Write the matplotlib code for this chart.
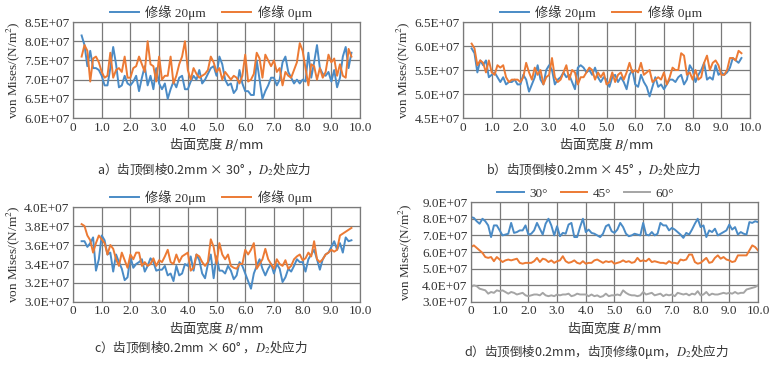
import numpy as np
import matplotlib
matplotlib.use("Agg")
import matplotlib.pyplot as plt
from matplotlib.font_manager import FontProperties

plt.rcParams['mathtext.fontset'] = 'stix'

# ---------------- data (values in 1E+07 N/m^2) ----------------
width_ab = np.round(np.arange(0.3, 9.75, 0.1), 1)   # tooth width B/mm, panels a-c
width_d = np.round(np.arange(0.0, 10.05, 0.1), 1)   # panel d

a_20um = [8.15, 7.9, 7.35, 7.75, 7.3, 7.3, 7.25, 7.1, 6.85, 6.85,
          7.3, 7.85, 7.4, 6.8, 6.85, 7.1, 6.9, 6.85, 6.95, 7.1,
          6.7, 7.05, 7.35, 6.85, 7.1, 6.75, 7.3, 6.9, 6.75, 6.9,
          6.5, 6.75, 6.95, 6.8, 7.05, 7.1, 6.75, 6.75, 6.95, 7.1,
          7.0, 7.25, 6.9, 7.0, 7.15, 7.3, 7.35, 7.1, 7.6, 7.4,
          7.0, 6.85, 6.9, 6.65, 6.75, 7.25, 6.9, 6.7, 6.7, 6.6,
          6.6, 7.5, 7.0, 6.5, 6.7, 6.85, 7.05, 7.05, 6.85, 7.0,
          7.45, 7.6, 7.2, 7.05, 6.9, 7.0, 6.9, 7.0, 6.95, 7.7,
          7.05, 7.45, 7.9, 7.3, 7.15, 7.1, 7.2, 6.95, 7.25, 6.8,
          7.05, 7.6, 7.85, 7.3, 7.7]
a_0um = [7.6, 7.9, 7.75, 6.95, 7.55, 7.6, 7.45, 7.2, 7.05, 7.1,
         7.7, 7.05, 7.25, 7.3, 7.2, 7.6, 7.05, 7.05, 7.3, 7.35,
         7.6, 7.4, 7.2, 8.0, 7.4, 7.35, 6.95, 7.6, 7.0, 7.1,
         7.1, 7.6, 6.9, 7.1, 7.4, 7.6, 8.0, 7.25, 7.0, 7.3,
         7.15, 7.05, 7.1, 7.15, 7.25, 7.6, 7.45, 7.2, 7.3, 7.0,
         7.2, 7.1, 7.0, 7.1, 7.05, 6.9, 7.1, 7.65, 6.95, 7.0,
         7.15, 7.7, 7.55, 7.05, 7.65, 7.5, 7.35, 7.5, 7.2, 7.3,
         6.85, 7.2, 7.1, 7.05, 7.25, 7.45, 7.95, 7.75, 7.3, 6.85,
         7.4, 7.35, 7.0, 7.3, 7.05, 7.2, 7.65, 7.45, 7.55, 7.1,
         7.4, 7.1, 7.05, 7.8, 7.6]

b_20um = [5.95, 5.85, 5.45, 5.7, 5.6, 5.7, 5.35, 5.4, 5.45, 5.35,
          5.25, 5.35, 5.2, 5.25, 5.25, 5.3, 5.2, 5.2, 5.4, 5.3,
          5.05, 5.2, 5.35, 5.6, 5.3, 5.2, 5.5, 5.6, 5.5, 5.2,
          5.3, 5.35, 5.45, 5.35, 5.4, 5.25, 5.1, 5.55, 5.6, 5.55,
          5.45, 5.5, 5.4, 5.55, 5.35, 5.25, 5.35, 5.3, 5.15, 5.35,
          5.4, 5.25, 5.35, 5.25, 5.1, 5.4, 5.5, 5.2, 5.15, 5.4,
          5.25, 5.15, 4.95, 5.15, 5.35, 5.15, 5.2, 5.1, 5.2, 5.3,
          5.3, 5.25, 5.35, 5.4, 5.2, 5.3, 5.6, 5.5, 5.25, 5.4,
          5.5, 5.65, 5.3, 5.35, 5.3, 5.6, 5.4, 5.45, 5.4, 5.45,
          5.55, 5.75, 5.7, 5.65, 5.75]
b_0um = [6.05, 5.95, 5.6, 5.7, 5.65, 5.45, 5.7, 5.45, 5.4, 5.6,
         5.55, 5.6, 5.35, 5.25, 5.3, 5.3, 5.3, 5.25, 5.35, 5.65,
         5.45, 5.3, 5.55, 5.4, 5.5, 5.2, 5.35, 5.4, 5.75, 5.35,
         5.25, 5.3, 5.45, 5.6, 5.3, 5.5, 5.45, 5.2, 5.35, 5.35,
         5.45, 5.55, 5.5, 5.3, 5.45, 5.35, 5.45, 5.2, 5.25, 5.45,
         5.25, 5.4, 5.45, 5.3, 5.45, 5.65, 5.45, 5.5, 5.45, 5.65,
         5.4, 5.45, 5.5, 5.25, 5.3, 5.35, 5.3, 5.45, 5.2, 5.35,
         5.55, 5.5, 5.5, 5.85, 5.8, 5.4, 5.45, 5.3, 5.5, 5.3,
         5.35, 5.65, 5.8, 5.5, 5.65, 5.7, 5.6, 5.4, 5.4, 5.5,
         5.75, 5.75, 5.7, 5.9, 5.85]

c_20um = [3.64, 3.64, 3.58, 3.62, 3.68, 3.33, 3.45, 3.70, 3.65, 3.5,
          3.52, 3.32, 3.5, 3.42, 3.35, 3.23, 3.26, 3.48, 3.36, 3.4,
          3.42, 3.45, 3.32, 3.38, 3.46, 3.42, 3.33, 3.34, 3.34, 3.38,
          3.28, 3.3, 3.22, 3.38, 3.28, 3.3, 3.4, 3.38, 3.48, 3.33,
          3.5, 3.44, 3.3, 3.25, 3.4, 3.5, 3.25, 3.48, 3.33, 3.33,
          3.3, 3.38, 3.33, 3.24, 3.28, 3.42, 3.38, 3.3, 3.22, 3.14,
          3.3, 3.38, 3.45, 3.35, 3.28, 3.35, 3.4, 3.3, 3.4, 3.35,
          3.21, 3.26, 3.35, 3.32, 3.38, 3.45, 3.42, 3.42, 3.32, 3.45,
          3.5, 3.55, 3.45, 3.34, 3.45, 3.5, 3.52, 3.58, 3.64, 3.55,
          3.62, 3.52, 3.68, 3.64, 3.65]
c_0um = [3.82, 3.8, 3.7, 3.65, 3.52, 3.62, 3.7, 3.66, 3.62, 3.5,
         3.6, 3.56, 3.45, 3.38, 3.52, 3.44, 3.36, 3.5, 3.45, 3.52,
         3.52, 3.38, 3.42, 3.38, 3.4, 3.46, 3.38, 3.44, 3.42, 3.48,
         3.55, 3.42, 3.4, 3.5, 3.42, 3.48, 3.5, 3.52, 3.33, 3.36,
         3.5, 3.48, 3.42, 3.38, 3.42, 3.66, 3.58, 3.4, 3.62, 3.5,
         3.45, 3.5, 3.38, 3.36, 3.35, 3.4, 3.4, 3.55, 3.5, 3.55,
         3.62, 3.35, 3.4, 3.45, 3.56, 3.45, 3.4, 3.35, 3.45, 3.4,
         3.38, 3.44, 3.35, 3.38, 3.45, 3.48, 3.5, 3.44, 3.46, 3.52,
         3.48, 3.64, 3.45, 3.42, 3.45, 3.5, 3.52, 3.55, 3.53, 3.55,
         3.7, 3.72, 3.74, 3.76, 3.78]

d_30 = [8.1, 8.05, 7.85, 7.7, 8.0, 7.85, 7.6, 6.9, 7.6, 7.6,
        7.3, 7.0, 7.05, 7.1, 7.75, 7.15, 7.2, 7.3, 7.3, 7.6,
        7.05, 7.1, 7.3, 7.75, 7.4, 7.05, 7.7, 8.0, 7.6, 7.0,
        7.55, 6.95, 7.15, 7.1, 7.65, 7.75, 6.9, 6.9, 7.5, 8.0,
        7.2, 7.35, 7.15, 7.1, 7.0, 6.9, 7.1, 7.55, 7.65, 7.25,
        7.15, 7.35, 7.75, 7.5, 7.1, 6.95, 7.0, 7.1, 7.05, 7.0,
        7.75, 7.05, 7.0, 7.2, 7.0, 7.1, 7.75, 7.6, 7.6, 7.3,
        7.45, 7.35, 7.2, 7.05, 6.85, 7.15, 7.05, 7.35, 7.7, 8.0,
        7.5, 7.6, 6.9, 7.3, 7.2, 7.4, 7.0, 7.1, 7.2, 7.3,
        7.65, 7.35, 7.5, 7.05, 7.2, 7.1, 7.05, 7.8, 7.75, 7.85,
        7.8]
d_45 = [6.3, 6.4, 6.25, 6.1, 5.95, 5.7, 5.65, 5.7, 5.45, 5.7,
        5.55, 5.4, 5.5, 5.55, 5.5, 5.55, 5.6, 5.35, 5.3, 5.35,
        5.35, 5.35, 5.45, 5.65, 5.4, 5.6, 5.55, 5.4, 5.5, 5.35,
        5.45, 5.5, 5.75, 5.45, 5.35, 5.4, 5.5, 5.35, 5.3, 5.45,
        5.3, 5.35, 5.35, 5.5, 5.55, 5.45, 5.35, 5.45, 5.4, 5.45,
        5.3, 5.35, 5.4, 5.5, 5.4, 5.45, 5.35, 5.4, 5.65, 5.45,
        5.5, 5.45, 5.6, 5.4, 5.45, 5.4, 5.35, 5.35, 5.3, 5.45,
        5.35, 5.35, 5.3, 5.55, 5.5, 5.55, 5.85, 5.85, 5.4, 5.3,
        5.35, 5.5, 5.65, 5.35, 5.4, 5.65, 5.8, 5.6, 5.7, 5.55,
        5.5, 5.4, 5.45, 5.8, 5.8, 5.8, 5.8, 6.1, 6.4, 6.3,
        6.1]
d_60 = [3.9, 4.0, 3.95, 3.8, 3.75, 3.7, 3.5, 3.6, 3.55, 3.7,
        3.65, 3.7, 3.6, 3.5, 3.6, 3.55, 3.45, 3.5, 3.55, 3.4,
        3.35, 3.4, 3.45, 3.45, 3.4, 3.55, 3.4, 3.35, 3.4, 3.35,
        3.45, 3.4, 3.45, 3.45, 3.5, 3.35, 3.4, 3.5, 3.45, 3.45,
        3.45, 3.35, 3.45, 3.35, 3.4, 3.3, 3.35, 3.5, 3.35, 3.4,
        3.4, 3.45, 3.4, 3.7, 3.55, 3.45, 3.4, 3.4, 3.35, 3.4,
        3.6, 3.45, 3.5, 3.55, 3.4, 3.45, 3.5, 3.35, 3.45, 3.4,
        3.45, 3.35, 3.55, 3.5, 3.45, 3.5, 3.4, 3.5, 3.45, 3.65,
        3.4, 3.45, 3.6, 3.4, 3.5, 3.45, 3.45, 3.5, 3.55, 3.5,
        3.55, 3.5, 3.6, 3.5, 3.55, 3.55, 3.75, 3.8, 3.85, 3.9,
        4.0]

x_ticks = [0, 1, 2, 3, 4, 5, 6, 7, 8, 9, 10]
x_tick_labels = ['0', '1.0', '2.0', '3.0', '4.0', '5.0', '6.0', '7.0', '8.0', '9.0', '10.0']
a_yticks = [6.0, 6.5, 7.0, 7.5, 8.0, 8.5]
a_ylabels = ['6.0E+07', '6.5E+07', '7.0E+07', '7.5E+07', '8.0E+07', '8.5E+07']
b_yticks = [4.5, 5.0, 5.5, 6.0, 6.5]
b_ylabels = ['4.5E+07', '5.0E+07', '5.5E+07', '6.0E+07', '6.5E+07']
c_yticks = [3.0, 3.2, 3.4, 3.6, 3.8, 4.0]
c_ylabels = ['3.0E+07', '3.2E+07', '3.4E+07', '3.6E+07', '3.8E+07', '4.0E+07']
d_yticks = [3.0, 4.0, 5.0, 6.0, 7.0, 8.0, 9.0]
d_ylabels = ['3.0E+07', '4.0E+07', '5.0E+07', '6.0E+07', '7.0E+07', '8.0E+07', '9.0E+07']

legend_ab = ['修缘 20μm', '修缘 0μm']
legend_d = ['30°', '45°', '60°']
captions = ['a）齿顶倒棱0.2mm × 30° ，$D_2$处应力',
            'b）齿顶倒棱0.2mm × 45° ，$D_2$处应力',
            'c）齿顶倒棱0.2mm × 60° ，$D_2$处应力',
            'd）齿顶倒棱0.2mm，齿顶修缘0μm，$D_2$处应力']
xlabel = '齿面宽度 $B$/mm'
ylabel = 'von Mises/(N/m$^2$)'

# ---------------- styling ----------------
BLUE = '#4a8bc6'
ORANGE = '#ec7a34'
GRAY = '#a5a5a5'
GRID = '#7a7a7a'
TXT = '#333333'

serif_cjk = FontProperties(family=['Liberation Serif', 'Noto Sans CJK SC'], size=9.5)
cjk = FontProperties(family='Noto Sans CJK SC', size=9)
serif = FontProperties(family='Liberation Serif', size=9.5)

fig = plt.figure(figsize=(7.8, 3.7), dpi=100)

ax_a = fig.add_axes([0.0936, 0.681, 0.368, 0.2595])
ax_b = fig.add_axes([0.5936, 0.681, 0.368, 0.2595])
ax_c = fig.add_axes([0.0936, 0.1838, 0.368, 0.2567])
ax_d = fig.add_axes([0.6038, 0.1838, 0.368, 0.270])


def style(ax, yticks, ylabels, ylab_x):
    ax.set_xlim(0, 10)
    ax.set_ylim(yticks[0], yticks[-1])
    ax.set_xticks(x_ticks)
    ax.set_xticklabels(x_tick_labels, fontproperties=serif, color=TXT)
    ax.set_yticks(yticks)
    ax.set_yticklabels(ylabels, fontproperties=serif, color=TXT)
    ax.tick_params(length=0, pad=2.5)
    ax.grid(True, color=GRID, linewidth=0.9)
    ax.set_axisbelow(True)
    for s in ax.spines.values():
        s.set_color(GRID)
        s.set_linewidth(0.9)
    ax.set_ylabel(ylabel, fontproperties=FontProperties(family='Liberation Serif', size=9.5), color=TXT)
    ax.yaxis.set_label_coords(ylab_x, 0.5)
    ax.set_xlabel(xlabel, fontproperties=FontProperties(family='Noto Sans CJK SC', size=9.5), color=TXT, labelpad=1)


for ax, s20, s0, yt, yl in [(ax_a, a_20um, a_0um, a_yticks, a_ylabels),
                            (ax_b, b_20um, b_0um, b_yticks, b_ylabels),
                            (ax_c, c_20um, c_0um, c_yticks, c_ylabels)]:
    ax.plot(width_ab, s20, color=BLUE, lw=1.4, label=legend_ab[0])
    ax.plot(width_ab, s0, color=ORANGE, lw=1.4, label=legend_ab[1])
    style(ax, yt, yl, -0.178)
    ax.legend(loc='lower center', bbox_to_anchor=(0.48, 0.97), ncol=2, frameon=False,
              prop=serif_cjk, handlelength=2.2, columnspacing=1.2, handletextpad=0.5,
              borderaxespad=0, labelcolor=TXT)

ax_d.plot(width_d, d_30, color=BLUE, lw=1.4, label=legend_d[0])
ax_d.plot(width_d, d_45, color=ORANGE, lw=1.4, label=legend_d[1])
ax_d.plot(width_d, d_60, color=GRAY, lw=1.4, label=legend_d[2])
style(ax_d, d_yticks, d_ylabels, -0.20)
ax_d.legend(loc='lower center', bbox_to_anchor=(0.4, 0.97), ncol=3, frameon=False,
            prop=serif_cjk, handlelength=2.0, columnspacing=1.0, handletextpad=0.4,
            borderaxespad=0, labelcolor=TXT)

fig.text(0.262, 0.5405, captions[0], fontproperties=cjk, ha='center', va='center', color=TXT)
fig.text(0.761, 0.5405, captions[1], fontproperties=cjk, ha='center', va='center', color=TXT)
fig.text(0.258, 0.0595, captions[2], fontproperties=cjk, ha='center', va='center', color=TXT)
fig.text(0.765, 0.0486, captions[3], fontproperties=cjk, ha='center', va='center', color=TXT)

fig.savefig('out.png', dpi=100)
